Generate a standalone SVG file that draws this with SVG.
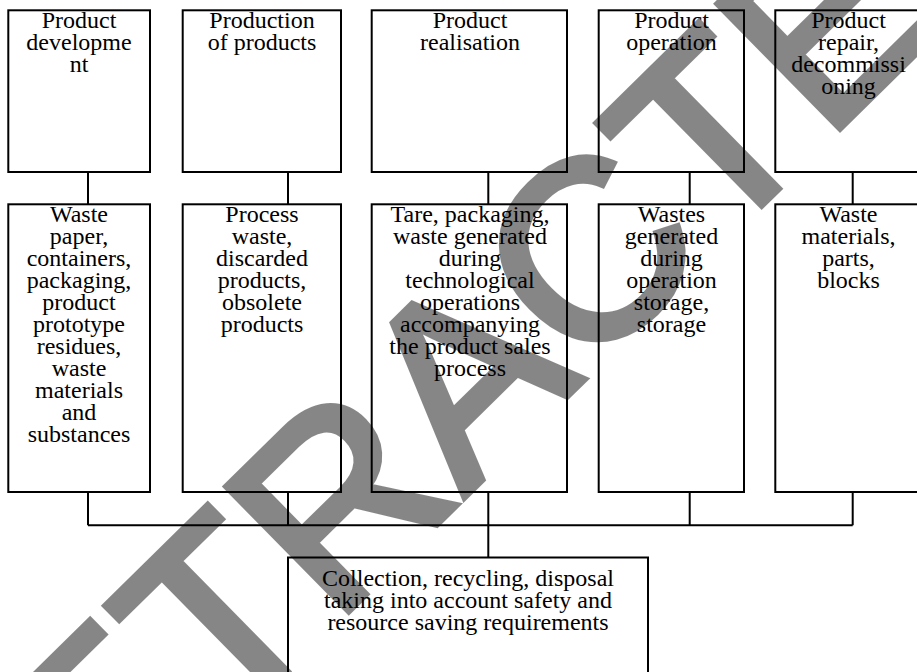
<svg xmlns="http://www.w3.org/2000/svg" width="917" height="672" viewBox="0 0 917 672">
<style>
.box{fill:#fff;stroke:#000;stroke-width:2}
.ln{fill:none;stroke:#000;stroke-width:2}
</style>
<rect width="917" height="672" fill="#fff"/>
<g id="connectors">
<path class="ln" d="M88 172V204M288 172V204M488.3 172V204M689.7 172V204M852.7 172V204"/>
<path class="ln" d="M88 492V525.3M288 492V525.3M488.3 492V525.3M689.7 492V525.3M852.7 492V525.3M88 525.3H852.7M488.3 525.3V557.5"/>
</g>
<g font-family="Liberation Serif, Times New Roman, serif" font-size="24" text-anchor="middle" fill="#000">
<g id="n1"><rect class="box" x="8.3" y="10.3" width="141.7" height="161.7"/>
<text y="27.5"><tspan x="79">Product</tspan><tspan x="79" dy="22">developme</tspan><tspan x="79" dy="22">nt</tspan></text></g>
<g id="n2"><rect class="box" x="182.7" y="10.3" width="158.3" height="161.7"/>
<text y="27.5"><tspan x="262">Production</tspan><tspan x="262" dy="22">of products</tspan></text></g>
<g id="n3"><rect class="box" x="371.7" y="10.3" width="195.3" height="161.7"/>
<text y="27.5"><tspan x="470">Product</tspan><tspan x="470" dy="22">realisation</tspan></text></g>
<g id="n4"><rect class="box" x="598.7" y="10.3" width="145.3" height="161.7"/>
<text y="27.5"><tspan x="671.5">Product</tspan><tspan x="671.5" dy="22">operation</tspan></text></g>
<g id="n5"><rect class="box" x="775.3" y="10.3" width="146.4" height="161.7"/>
<text y="27.5"><tspan x="848.5">Product</tspan><tspan x="848.5" dy="22">repair,</tspan><tspan x="848.5" dy="22">decommissi</tspan><tspan x="848.5" dy="22">oning</tspan></text></g>
<g id="w1"><rect class="box" x="8.3" y="204.3" width="141.7" height="287.7"/>
<text y="221.7"><tspan x="79">Waste</tspan><tspan x="79" dy="22">paper,</tspan><tspan x="79" dy="22">containers,</tspan><tspan x="79" dy="22">packaging,</tspan><tspan x="79" dy="22">product</tspan><tspan x="79" dy="22">prototype</tspan><tspan x="79" dy="22">residues,</tspan><tspan x="79" dy="22">waste</tspan><tspan x="79" dy="22">materials</tspan><tspan x="79" dy="22">and</tspan><tspan x="79" dy="22">substances</tspan></text></g>
<g id="w2"><rect class="box" x="182.7" y="204.3" width="158.3" height="287.7"/>
<text y="221.7"><tspan x="262">Process</tspan><tspan x="262" dy="22">waste,</tspan><tspan x="262" dy="22">discarded</tspan><tspan x="262" dy="22">products,</tspan><tspan x="262" dy="22">obsolete</tspan><tspan x="262" dy="22">products</tspan></text></g>
<g id="w3"><rect class="box" x="371.7" y="204.3" width="195.3" height="287.7"/>
<text y="221.7"><tspan x="470">Tare, packaging,</tspan><tspan x="470" dy="22">waste generated</tspan><tspan x="470" dy="22">during</tspan><tspan x="470" dy="22">technological</tspan><tspan x="470" dy="22">operations</tspan><tspan x="470" dy="22">accompanying</tspan><tspan x="470" dy="22">the product sales</tspan><tspan x="470" dy="22">process</tspan></text></g>
<g id="w4"><rect class="box" x="598.7" y="204.3" width="145.3" height="287.7"/>
<text y="221.7"><tspan x="671.5">Wastes</tspan><tspan x="671.5" dy="22">generated</tspan><tspan x="671.5" dy="22">during</tspan><tspan x="671.5" dy="22">operation</tspan><tspan x="671.5" dy="22">storage,</tspan><tspan x="671.5" dy="22">storage</tspan></text></g>
<g id="w5"><rect class="box" x="775.3" y="204.3" width="146.4" height="287.7"/>
<text y="221.7"><tspan x="848.5">Waste</tspan><tspan x="848.5" dy="22">materials,</tspan><tspan x="848.5" dy="22">parts,</tspan><tspan x="848.5" dy="22">blocks</tspan></text></g>
<g id="collect"><rect class="box" x="288" y="557.5" width="360" height="140"/>
<text y="586"><tspan x="468">Collection, recycling, disposal</tspan><tspan x="468" dy="22">taking into account safety and</tspan><tspan x="468" dy="22">resource saving requirements</tspan></text></g>
</g>
<g id="watermark" opacity="0.47">
<text transform="translate(-27,980) rotate(-44.5)" font-family="Liberation Sans, Arial, sans-serif" font-size="253" fill="#000" stroke="#000" stroke-width="7">RETRACTED</text>
</g>
</svg>
